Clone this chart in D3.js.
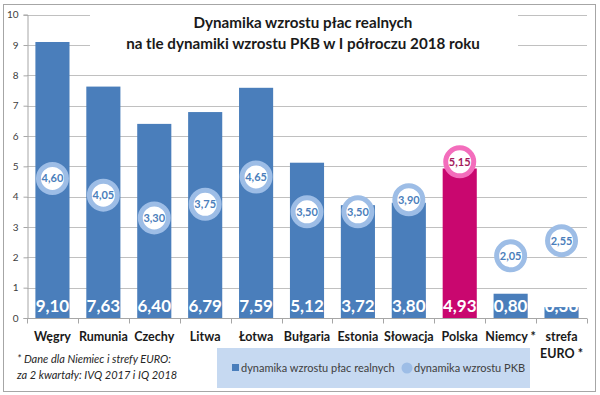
<!DOCTYPE html>
<html>
<head>
<meta charset="utf-8">
<script src="https://cdn.jsdelivr.net/npm/d3@7"></script>
<style>
  body { margin: 0; background: #fff; }
  svg { font-family: Lato, "Open Sans", sans-serif; }
</style>
</head>
<body>
<div id="chart"></div>
<script>
// dane
var kraje = ["Węgry", "Rumunia", "Czechy", "Litwa", "Łotwa", "Bułgaria", "Estonia", "Słowacja", "Polska", "Niemcy *", "strefa EURO *"];
var place = [9.10, 7.63, 6.40, 6.79, 7.59, 5.12, 3.72, 3.80, 4.93, 0.80, 0.36];
var pkb = [4.60, 4.05, 3.30, 3.75, 4.65, 3.50, 3.50, 3.90, 5.15, 2.05, 2.55];
var yTicks = [0, 1, 2, 3, 4, 5, 6, 7, 8, 9, 10];
var tytul = ["Dynamika wzrostu płac realnych", "na tle dynamiki wzrostu PKB w I półroczu 2018 roku"];
var przypis = ["* Dane dla Niemiec i strefy EURO:", "za 2 kwartały: IVQ 2017 i IQ 2018"];
var legenda = ["dynamika wzrostu płac realnych", "dynamika wzrostu PKB"];

(function () {
    var width = 600, height = 395;
    var padLeft = 27, padRight = 587, padTop = 14.7, padBottom = 318;
    var fmt = function (v) { return v.toFixed(2).replace(".", ","); };

    var svg = d3.select("#chart").append("svg")
        .attr("width", width)
        .attr("height", height);

    // ramka
    svg.append("rect")
        .attr("x", 3.5).attr("y", 4.5)
        .attr("width", 592).attr("height", 387)
        .attr("fill", "#fff")
        .attr("stroke", "#a6a6a6");

    var xScale = d3.scaleBand()
        .domain(kraje)
        .range([padLeft, padRight])
        .paddingInner(0.33)
        .paddingOuter(0.165);

    var yScale = d3.scaleLinear()
        .domain([0, 10])
        .range([padBottom, padTop]);

    // siatka
    svg.append("g")
        .selectAll("line")
        .data(yTicks.slice(1))
        .enter()
        .append("line")
        .attr("x1", padLeft).attr("x2", padRight)
        .attr("y1", function (d) { return Math.round(yScale(d)) + 0.5; })
        .attr("y2", function (d) { return Math.round(yScale(d)) + 0.5; })
        .attr("stroke", "#c0c0c0");

    // tło tytułu
    svg.append("rect")
        .attr("x", 90).attr("y", 8)
        .attr("width", 428).attr("height", 52)
        .attr("fill", "#fff");

    svg.append("g")
        .selectAll("text")
        .data(tytul)
        .enter()
        .append("text")
        .text(function (d) { return d; })
        .attr("x", 303)
        .attr("y", function (d, i) { return 28 + i * 21; })
        .attr("text-anchor", "middle")
        .style("font-size", "15.2px")
        .style("font-weight", "bold")
        .attr("fill", "#1a1a1a");

    // słupki
    svg.append("g")
        .selectAll("rect")
        .data(kraje)
        .enter()
        .append("rect")
        .attr("x", function (d) { return xScale(d); })
        .attr("y", function (d, i) { return yScale(place[i]); })
        .attr("width", xScale.bandwidth())
        .attr("height", function (d, i) { return padBottom - yScale(place[i]); })
        .attr("fill", function (d) { return d == "Polska" ? "#c9076f" : "#4a7ebb"; });

    svg.append("g")
        .selectAll("text")
        .data(kraje)
        .enter()
        .append("text")
        .text(function (d, i) { return fmt(place[i]); })
        .attr("x", function (d) { return xScale(d) + xScale.bandwidth() / 2; })
        .attr("y", 312)
        .attr("text-anchor", "middle")
        .style("font-size", "17px")
        .style("font-weight", "bold")
        .attr("fill", "#fff");

    // osie
    svg.append("g")
        .attr("transform", "translate(" + (padLeft + 0.5) + ",0)")
        .call(d3.axisLeft(yScale).tickValues(yTicks).tickSize(4).tickPadding(5))
        .call(function (g) {
            g.select(".domain").attr("stroke", "#a6a6a6");
            g.selectAll(".tick line").attr("stroke", "#a6a6a6");
            g.selectAll(".tick text").attr("fill", "#404040")
                .style("font-size", "10px").style("font-family", "Lato, sans-serif");
        });

    var xAxis = svg.append("g")
        .attr("transform", "translate(0," + (padBottom + 0.5) + ")");
    xAxis.append("line")
        .attr("x1", padLeft).attr("x2", padRight)
        .attr("stroke", "#a6a6a6");
    var granice = d3.range(kraje.length + 1).map(function (i) {
        return padLeft + i * (padRight - padLeft) / kraje.length;
    });
    xAxis.selectAll(".tk")
        .data(granice)
        .enter()
        .append("line")
        .attr("x1", function (d) { return Math.round(d) + 0.5; })
        .attr("x2", function (d) { return Math.round(d) + 0.5; })
        .attr("y1", 0).attr("y2", 5)
        .attr("stroke", "#a6a6a6");

    xAxis.selectAll(".lbl")
        .data(kraje)
        .enter()
        .append("text")
        .attr("text-anchor", "middle")
        .attr("fill", "#1a1a1a")
        .style("font-size", "12.5px")
        .style("font-weight", "bold")
        .each(function (d) {
            var cx = xScale(d) + xScale.bandwidth() / 2;
            var lines = d == "strefa EURO *" ? ["strefa", "EURO *"] : [d];
            d3.select(this).selectAll("tspan")
                .data(lines)
                .enter()
                .append("tspan")
                .attr("x", cx)
                .attr("y", function (t, j) { return 22 + j * 17; })
                .text(function (t) { return t; });
        });

    // kółka PKB
    var kolka = svg.append("g")
        .selectAll("g")
        .data(kraje)
        .enter()
        .append("g")
        .attr("transform", function (d, i) {
            return "translate(" + (xScale(d) + xScale.bandwidth() / 2) + "," + yScale(pkb[i]) + ")";
        });
    kolka.append("circle")
        .attr("r", 14)
        .attr("fill", "#fff")
        .attr("stroke", function (d) { return d == "Polska" ? "#f36dbc" : "#9dbde6"; })
        .attr("stroke-width", 5);
    kolka.append("text")
        .text(function (d, i) { return fmt(pkb[i]); })
        .attr("y", 4)
        .attr("text-anchor", "middle")
        .style("font-size", "11px")
        .style("font-weight", "bold")
        .attr("fill", function (d) { return d == "Polska" ? "#a3195b" : "#4a7ebb"; });

    // przypis
    svg.append("g")
        .selectAll("text")
        .data(przypis)
        .enter()
        .append("text")
        .text(function (d) { return d; })
        .attr("x", 17)
        .attr("y", function (d, i) { return 363 + i * 16; })
        .style("font-size", "11px")
        .style("font-style", "italic")
        .attr("fill", "#262626");

    // legenda
    var leg = svg.append("g");
    leg.append("rect")
        .attr("x", 217).attr("y", 348)
        .attr("width", 313).attr("height", 40)
        .attr("fill", "#c6d9f1");
    leg.append("rect")
        .attr("x", 232).attr("y", 364)
        .attr("width", 7).attr("height", 7)
        .attr("fill", "#4a7ebb");
    leg.append("circle")
        .attr("cx", 407).attr("cy", 368)
        .attr("r", 5.5)
        .attr("fill", "#9dbde6");
    leg.selectAll("text")
        .data(legenda)
        .enter()
        .append("text")
        .text(function (d) { return d; })
        .attr("x", function (d, i) { return i == 0 ? 241 : 414; })
        .attr("y", 372)
        .style("font-size", "11px")
        .attr("fill", "#404040");
})();
</script>
</body>
</html>
